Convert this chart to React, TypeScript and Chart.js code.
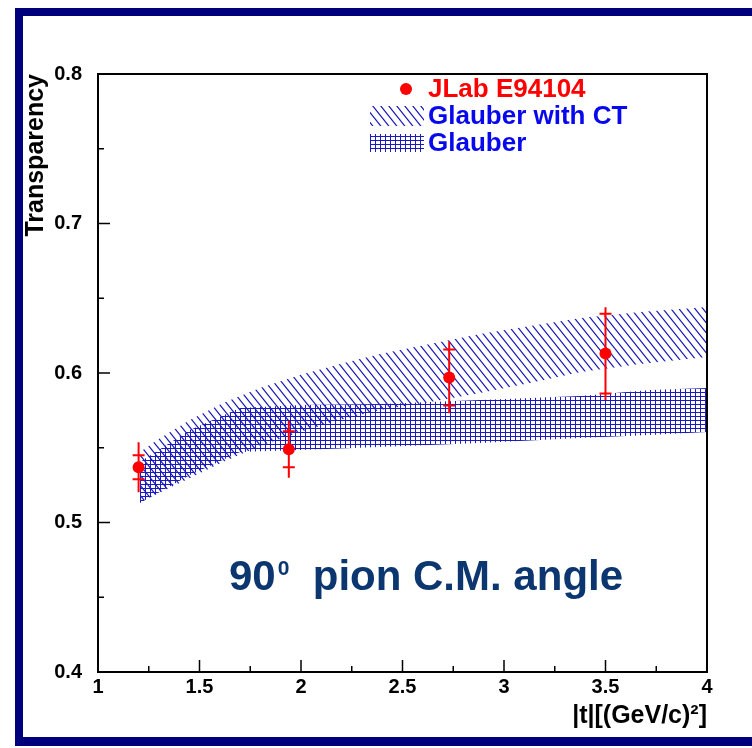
import React, { useEffect, useRef } from "react";
import { Chart, registerables } from "chart.js";

Chart.register(...registerables);

// ---- data ----
const xMajorTicks = [1, 1.5, 2, 2.5, 3, 3.5, 4];
const xMinorTicks = [1.25, 1.75, 2.25, 2.75, 3.25, 3.75];
const yMajorTicks = [0.4, 0.5, 0.6, 0.7, 0.8];
const yMinorTicks = [0.45, 0.55, 0.65, 0.75];

const dataX = [1.2, 1.94, 2.73, 3.5];
const dataY = [0.537, 0.549, 0.597, 0.613];
const statErr = [0.008, 0.012, 0.0187, 0.0267];
const totErr = [0.0167, 0.019, 0.024, 0.031];

const ctX = [1.207, 1.291, 1.453, 1.616, 1.798, 1.995, 2.192, 2.389, 2.635, 2.882, 3.128, 3.379, 3.67, 4.0];
const ctUpper = [0.5472, 0.5552, 0.5686, 0.5799, 0.59, 0.5987, 0.606, 0.6127, 0.6194, 0.6261, 0.6314, 0.6368, 0.6408, 0.6441];
const ctLower = [0.5137, 0.5191, 0.5298, 0.5405, 0.5512, 0.5605, 0.5686, 0.5753, 0.5806, 0.5866, 0.5933, 0.6007, 0.606, 0.6107];

const glX = [1.207, 1.453, 1.7, 1.995, 2.389, 2.882, 3.374, 3.719, 4.0];
const glUpper = [0.5405, 0.5619, 0.5766, 0.5786, 0.5793, 0.5819, 0.5846, 0.5886, 0.59];
const glLower = [0.513, 0.5318, 0.5472, 0.5485, 0.5505, 0.5532, 0.5565, 0.5585, 0.5605];

const legendLabels = ["JLab E94104", "Glauber with CT", "Glauber"];
const xTitle = "|t|[(GeV/c)\u00b2]";
const yTitle = "Transparency";

const FONT = "'Liberation Sans', Arial, Helvetica, sans-serif";
const HATCH = "rgb(28,28,190)";
const RED = "#ff0000";
const NAVY = "#00007c";

function makeDiagPattern(): CanvasPattern {
  const w = 8, h = 10;
  const c = document.createElement("canvas");
  c.width = w; c.height = h;
  const g = c.getContext("2d")!;
  g.strokeStyle = HATCH;
  g.lineWidth = 1.2;
  g.beginPath();
  for (let k = -1; k <= 1; k++) {
    g.moveTo(k * w - w, -h);
    g.lineTo(k * w + 2 * w, 2 * h);
  }
  g.stroke();
  return g.createPattern(c, "repeat")!;
}

function makeCrossPattern(): CanvasPattern {
  const w = 5, h = 4;
  const c = document.createElement("canvas");
  c.width = w; c.height = h;
  const g = c.getContext("2d")!;
  g.strokeStyle = HATCH;
  g.lineWidth = 1;
  g.beginPath();
  g.moveTo(0, 0.5); g.lineTo(w, 0.5);
  g.moveTo(0.5, 0); g.lineTo(0.5, h);
  g.stroke();
  return g.createPattern(c, "repeat")!;
}

export default function App() {
  const ref = useRef<HTMLCanvasElement | null>(null);

  useEffect(() => {
    const canvas = ref.current!;
    const ctPattern = makeDiagPattern();
    const glPattern = makeCrossPattern();

    const decor = {
      id: "decor",
      beforeDraw(chart: any) {
        const ctx = chart.ctx;
        ctx.save();
        ctx.fillStyle = "#ffffff";
        ctx.fillRect(0, 0, chart.width, chart.height);
        ctx.fillStyle = NAVY;
        ctx.fillRect(15, 8, chart.width - 15, 8);
        ctx.fillRect(15, 8, 8, 738);
        ctx.fillRect(15, 737, chart.width - 15, 9);
        ctx.restore();
      },
      beforeDatasetDraw(chart: any, args: any) {
        if (args.index !== 4) return;
        const ctx = chart.ctx;
        const xs = chart.scales.x, ys = chart.scales.y;
        ctx.save();
        ctx.strokeStyle = RED;
        ctx.lineWidth = 2;
        for (let i = 0; i < dataX.length; i++) {
          const px = xs.getPixelForValue(dataX[i]);
          ctx.beginPath();
          ctx.moveTo(px, ys.getPixelForValue(dataY[i] - totErr[i]));
          ctx.lineTo(px, ys.getPixelForValue(dataY[i] + totErr[i]));
          for (const s of [-1, 1]) {
            const py = ys.getPixelForValue(dataY[i] + s * statErr[i]);
            ctx.moveTo(px - 6, py);
            ctx.lineTo(px + 6, py);
          }
          ctx.stroke();
        }
        ctx.restore();
      },
      afterDraw(chart: any) {
        const ctx = chart.ctx;
        const xs = chart.scales.x, ys = chart.scales.y;
        const { left, right, top, bottom } = chart.chartArea;
        ctx.save();
        // frame box
        ctx.strokeStyle = "#000";
        ctx.lineWidth = 2;
        ctx.strokeRect(left, top, right - left, bottom - top);
        // ticks (inward)
        ctx.lineWidth = 1.5;
        ctx.beginPath();
        for (const v of xMajorTicks) {
          const px = xs.getPixelForValue(v);
          ctx.moveTo(px, bottom); ctx.lineTo(px, bottom - 12);
        }
        for (const v of xMinorTicks) {
          const px = xs.getPixelForValue(v);
          ctx.moveTo(px, bottom); ctx.lineTo(px, bottom - 6);
        }
        for (const v of yMajorTicks) {
          const py = ys.getPixelForValue(v);
          ctx.moveTo(left, py); ctx.lineTo(left + 12, py);
        }
        for (const v of yMinorTicks) {
          const py = ys.getPixelForValue(v);
          ctx.moveTo(left, py); ctx.lineTo(left + 6, py);
        }
        ctx.stroke();

        // legend
        ctx.textBaseline = "middle";
        ctx.textAlign = "left";
        ctx.font = `bold 26px ${FONT}`;
        ctx.fillStyle = RED;
        ctx.beginPath();
        ctx.arc(406, 89, 6, 0, Math.PI * 2);
        ctx.fill();
        ctx.fillText(legendLabels[0], 428, 90);
        ctx.fillStyle = ctPattern;
        ctx.fillRect(370, 106, 54, 20);
        ctx.fillStyle = glPattern;
        ctx.fillRect(370, 134, 54, 18);
        ctx.fillStyle = "#0808ee";
        ctx.fillText(legendLabels[1], 428, 117);
        ctx.fillText(legendLabels[2], 428, 144);

        // annotation
        ctx.fillStyle = "#0c3670";
        ctx.textBaseline = "alphabetic";
        ctx.font = `bold 42px ${FONT}`;
        let x = 229;
        ctx.fillText("90", x, 590);
        x += ctx.measureText("90").width + 2;
        ctx.font = `bold 21px ${FONT}`;
        ctx.fillText("0", x, 575);
        x += ctx.measureText("0").width;
        ctx.font = `bold 42px ${FONT}`;
        ctx.fillText("  pion C.M. angle", x, 590);
        ctx.restore();
      },
    };

    const chart = new Chart(canvas, {
      type: "scatter",
      data: {
        datasets: [
          {
            data: ctX.map((x, i) => ({ x, y: ctUpper[i] })),
            showLine: true, fill: "+1", backgroundColor: ctPattern,
            borderColor: "rgba(0,0,0,0)", borderWidth: 0, pointRadius: 0, order: 1,
          },
          {
            data: ctX.map((x, i) => ({ x, y: ctLower[i] })),
            showLine: true, fill: false,
            borderColor: "rgba(0,0,0,0)", borderWidth: 0, pointRadius: 0, order: 1,
          },
          {
            data: glX.map((x, i) => ({ x, y: glUpper[i] })),
            showLine: true, fill: "+1", backgroundColor: glPattern,
            borderColor: "rgba(0,0,0,0)", borderWidth: 0, pointRadius: 0, order: 2,
          },
          {
            data: glX.map((x, i) => ({ x, y: glLower[i] })),
            showLine: true, fill: false,
            borderColor: "rgba(0,0,0,0)", borderWidth: 0, pointRadius: 0, order: 2,
          },
          {
            data: dataX.map((x, i) => ({ x, y: dataY[i] })),
            showLine: false, pointRadius: 6, pointBackgroundColor: RED,
            pointBorderColor: RED, pointBorderWidth: 0, order: 0,
          },
        ],
      },
      options: {
        responsive: false,
        animation: false,
        devicePixelRatio: 1,
        layout: { padding: { left: 0, top: 74, right: 45, bottom: 0 } },
        plugins: { legend: { display: false }, tooltip: { enabled: false } },
        scales: {
          x: {
            type: "linear", min: 1, max: 4,
            afterFit: (s: any) => { s.height = 76; },
            afterBuildTicks: (s: any) => { s.ticks = xMajorTicks.map((v) => ({ value: v })); },
            grid: { display: false, drawTicks: false },
            border: { display: false },
            ticks: { padding: 3, color: "#000", font: { family: FONT, size: 20, weight: "bold" }, maxRotation: 0, autoSkip: false, callback: (v: any) => String(Number(v)) },
            title: { display: true, text: xTitle, align: "end", color: "#000", font: { family: FONT, size: 25, weight: "bold" }, padding: { top: 0, bottom: 17 } },
          },
          y: {
            type: "linear", min: 0.4, max: 0.8,
            afterFit: (s: any) => { s.width = 98; },
            afterBuildTicks: (s: any) => { s.ticks = yMajorTicks.map((v) => ({ value: v })); },
            grid: { display: false, drawTicks: false },
            border: { display: false },
            ticks: { padding: 16, color: "#000", font: { family: FONT, size: 20, weight: "bold" }, callback: (v: any) => Number(v).toFixed(1) },
            title: { display: true, text: yTitle, align: "end", color: "#000", font: { family: FONT, size: 25, weight: "bold" }, padding: { top: 21, bottom: 0 } },
          },
        },
      },
      plugins: [decor],
    } as any);

    return () => chart.destroy();
  }, []);

  return (
    <div style={{ position: "fixed", left: 0, top: 0, width: 752, height: 748, background: "#fff" }}>
      <canvas ref={ref} width={752} height={748} style={{ display: "block" }} />
    </div>
  );
}
